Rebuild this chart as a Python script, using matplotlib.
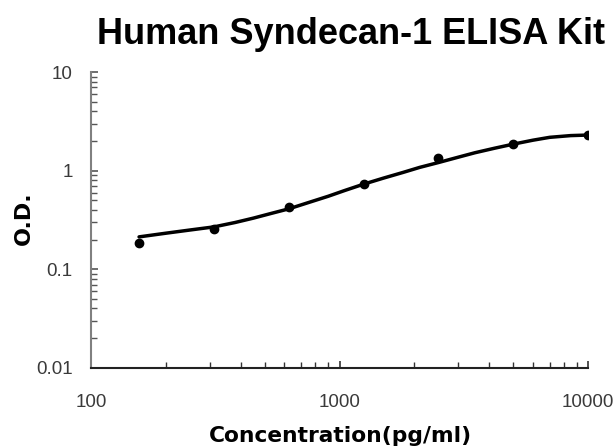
import matplotlib
matplotlib.use("Agg")
import matplotlib.pyplot as plt
from matplotlib.ticker import FixedLocator, LogLocator, NullFormatter, FixedFormatter

# standard points
conc = [156.25, 312.5, 625, 1250, 2500, 5000, 10000]
od = [0.185, 0.257, 0.43, 0.73, 1.35, 1.86, 2.3]

# fitted curve
curve_x = [156.25, 200, 250, 312.5, 380, 450, 530, 625, 750, 900, 1050, 1250, 1500,
           1800, 2100, 2500, 3000, 3500, 4200, 5000, 6000, 7000, 8500, 10000]
curve_y = [0.213, 0.232, 0.25, 0.269, 0.298, 0.33, 0.368, 0.41, 0.475, 0.55, 0.63, 0.73,
           0.84, 0.96, 1.08, 1.21, 1.37, 1.52, 1.69, 1.86, 2.04, 2.18, 2.27, 2.30]

xticks = [100, 1000, 10000]
xtick_labels = ["100", "1000", "10000"]
yticks = [0.01, 0.1, 1, 10]
ytick_labels = ["0.01", "0.1", "1", "10"]

plt.rcParams["font.family"] = ["Liberation Sans", "DejaVu Sans"]

fig = plt.figure(figsize=(6.14, 4.48), dpi=100)
ax = fig.add_axes([0.148, 0.179, 0.81, 0.66])

ax.plot(curve_x, curve_y, color="black", lw=2.5, solid_capstyle="round")
ax.plot(conc, od, "o", color="black", ms=6)

ax.set_xscale("log")
ax.set_yscale("log")
ax.set_xlim(100, 10000)
ax.set_ylim(0.01, 10)

ax.xaxis.set_major_locator(FixedLocator(xticks))
ax.xaxis.set_major_formatter(FixedFormatter(xtick_labels))
ax.yaxis.set_major_locator(FixedLocator(yticks))
ax.yaxis.set_major_formatter(FixedFormatter(ytick_labels))
ax.xaxis.set_minor_locator(LogLocator(base=10, subs=range(2, 10)))
ax.yaxis.set_minor_locator(LogLocator(base=10, subs=range(2, 10)))
ax.xaxis.set_minor_formatter(NullFormatter())
ax.yaxis.set_minor_formatter(NullFormatter())

for s in ["top", "right"]:
    ax.spines[s].set_visible(False)
ax.spines["left"].set_color("#808080")
ax.spines["left"].set_linewidth(1.5)
ax.spines["bottom"].set_color("#222222")
ax.spines["bottom"].set_linewidth(1.5)

ax.tick_params(axis="y", which="both", direction="in", colors="#555555",
               labelcolor="#3a3a3a", labelsize=13.5, pad=13)
ax.tick_params(axis="x", which="both", direction="in", colors="#333333",
               labelcolor="#3a3a3a", labelsize=13.5, pad=19)
ax.tick_params(which="major", length=5, width=1.2)
ax.tick_params(which="minor", length=4, width=1)

fig.text(340 / 614, 1 - 442 / 448, "Concentration(pg/ml)", ha="center", va="baseline",
         fontsize=15.7, fontweight="bold", family="DejaVu Sans")
fig.text(24 / 614, 1 - 218 / 448, "O.D.", ha="center", va="center", rotation=90,
         fontsize=16, fontweight="bold", family="DejaVu Sans")
fig.text(351 / 614, 1 - 35 / 448, "Human Syndecan-1 ELISA Kit", ha="center", va="center",
         fontsize=26, fontweight="bold")

fig.savefig("out.png", dpi=100)
plt.close(fig)
